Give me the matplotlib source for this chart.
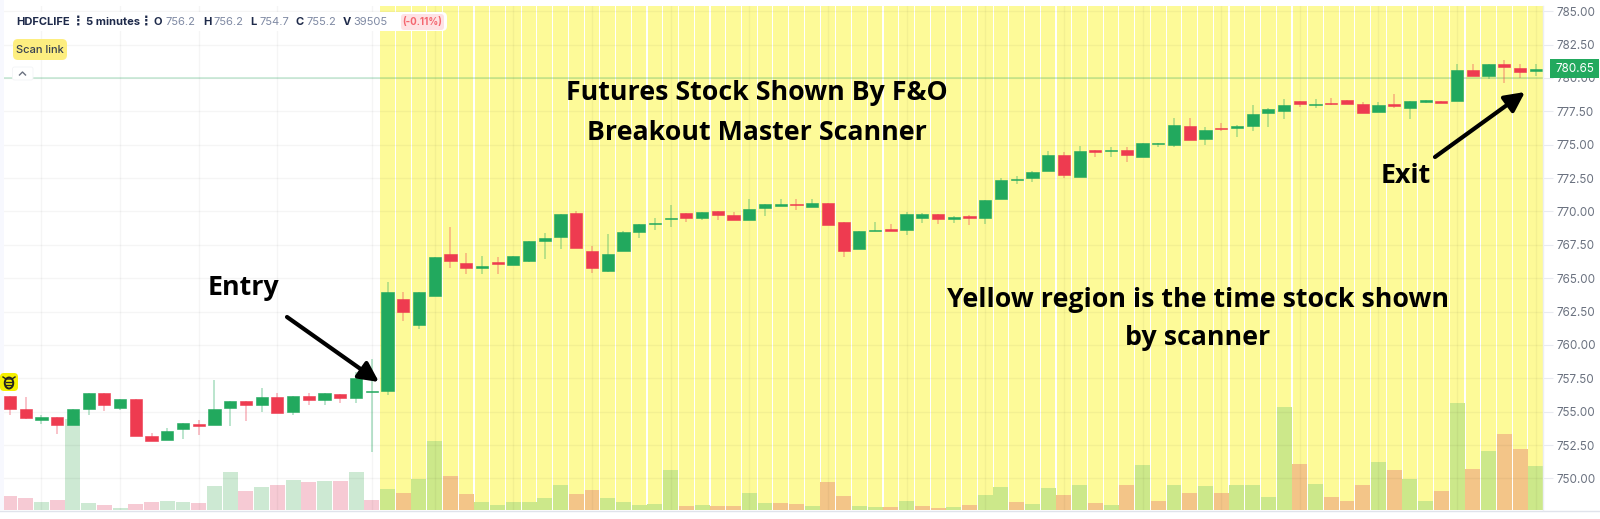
import matplotlib
matplotlib.use("Agg")
import matplotlib.pyplot as plt
from matplotlib.patches import FancyBboxPatch, Rectangle, Ellipse

plt.rcParams['font.family'] = ['Inter', 'DejaVu Sans']

# candle values
opens = [756.19, 755.22, 754.39, 754.57, 753.97, 755.17, 756.42, 755.29, 755.94, 753.17,
         752.87, 753.72, 754.09, 754.04, 755.29, 755.77, 755.47, 756.11, 754.99, 756.19,
         755.89, 756.34, 756.01, 756.47, 756.57, 763.41, 761.51, 763.69, 766.78, 766.13,
         765.78, 766.20, 766.00, 766.29, 767.79, 768.08, 769.88, 767.06, 765.54, 767.01,
         768.43, 769.08, 769.46, 769.88, 769.53, 770.00, 769.76, 769.33, 770.26, 770.43,
         770.58, 770.31, 770.61, 769.23, 767.19, 768.51, 768.68, 768.63, 769.53, 769.81,
         769.46, 769.63, 769.53, 770.91, 772.35, 772.48, 773.00, 774.23, 772.60, 774.58,
         774.53, 774.63, 774.10, 775.08, 775.00, 776.38, 775.43, 776.28, 776.23, 776.40,
         777.40, 777.53, 778.25, 777.95, 778.15, 778.37, 778.07, 777.43, 778.03, 777.77,
         778.22, 778.25, 778.27, 780.60, 780.15, 781.02, 780.77, 780.50]
closes = [755.17, 754.52, 754.57, 753.97, 755.17, 756.42, 755.47, 755.94, 753.19, 752.82,
          753.54, 754.19, 753.94, 755.22, 755.81, 755.54, 756.11, 754.92, 756.19, 755.89,
          756.42, 756.04, 757.56, 756.57, 763.96, 762.46, 763.96, 766.56, 766.26, 765.78,
          765.95, 766.06, 766.66, 767.81, 768.01, 769.83, 767.24, 765.74, 766.81, 768.43,
          769.03, 769.16, 769.53, 769.53, 769.98, 769.71, 769.33, 770.18, 770.53, 770.53,
          770.48, 770.66, 768.98, 767.01, 768.56, 768.61, 768.56, 769.81, 769.81, 769.41,
          769.58, 769.53, 770.88, 772.38, 772.43, 772.93, 774.20, 772.73, 774.50, 774.45,
          774.63, 774.23, 775.13, 775.15, 776.50, 775.38, 776.13, 776.15, 776.38, 777.28,
          777.65, 778.00, 778.03, 778.08, 778.05, 778.03, 777.35, 778.00, 777.90, 778.25,
          778.33, 778.12, 780.60, 780.12, 781.02, 780.85, 780.47, 780.67]
highs = [756.19, 756.14, 754.79, 754.57, 755.17, 756.42, 756.42, 755.94, 755.94, 753.44,
         753.77, 754.19, 754.39, 757.34, 755.81, 755.77, 756.79, 756.42, 756.19, 756.42,
         756.42, 756.34, 757.94, 758.96, 764.69, 763.94, 763.96, 766.56, 768.83, 766.88,
         766.70, 766.58, 766.66, 767.81, 768.36, 769.83, 770.00, 767.41, 768.31, 768.50,
         769.05, 769.48, 770.48, 769.90, 769.98, 770.00, 769.98, 770.91, 770.53, 770.93,
         770.93, 770.93, 770.61, 769.23, 768.56, 769.21, 769.03, 769.98, 769.91, 769.81,
         769.63, 769.70, 770.88, 772.50, 772.68, 773.00, 774.50, 774.43, 774.93, 774.62,
         774.80, 774.80, 775.13, 775.15, 777.00, 777.00, 776.35, 776.63, 776.45, 777.95,
         777.73, 778.40, 778.25, 778.42, 778.50, 778.37, 778.22, 778.22, 778.80, 778.25,
         778.33, 778.25, 781.05, 781.05, 781.02, 781.32, 781.02, 781.02]
lows = [754.72, 754.42, 754.09, 753.32, 753.97, 754.77, 755.04, 755.11, 753.19, 752.82,
        752.87, 752.94, 753.24, 754.04, 753.92, 754.27, 754.99, 754.92, 754.77, 755.54,
        755.54, 755.64, 755.64, 752.02, 756.27, 761.81, 761.19, 763.69, 765.80, 765.28,
        765.28, 765.33, 766.00, 766.20, 766.41, 767.21, 767.24, 765.41, 765.50, 767.01,
        768.03, 768.61, 768.86, 769.23, 769.36, 769.36, 769.33, 769.33, 769.66, 770.40,
        770.13, 770.31, 768.98, 766.56, 767.19, 768.51, 768.50, 768.21, 769.11, 769.06,
        769.16, 768.98, 769.06, 770.91, 772.03, 772.18, 773.00, 772.53, 772.60, 774.05,
        774.05, 773.73, 774.10, 774.85, 774.83, 775.38, 775.00, 776.05, 775.55, 776.05,
        776.33, 776.95, 777.85, 777.77, 777.97, 778.03, 777.35, 777.43, 777.77, 776.95,
        778.13, 778.12, 778.27, 780.12, 779.90, 779.60, 780.00, 780.15]
# volume in thousands
volumes = [39.5, 33.0, 23.4, 28.2, 255.8, 19.7, 14.1, 5.6, 16.9, 21.7,
           25.4, 23.4, 19.7, 66.8, 107.2, 53.6, 64.9, 71.3, 84.6, 79.0,
           82.6, 82.6, 107.2, 28.2, 60.1, 48.8, 87.4, 193.7, 95.9, 45.1,
           23.4, 14.1, 23.4, 21.7, 33.8, 69.7, 45.1, 56.4, 33.8, 21.7,
           14.9, 16.9, 112.8, 12.1, 14.9, 10.4, 12.1, 48.8, 19.7, 19.7,
           16.9, 12.1, 79.0, 39.5, 10.4, 8.5, 8.5, 24.5, 10.4, 5.6,
           8.5, 14.9, 42.3, 64.9, 21.7, 16.9, 62.9, 42.3, 71.3, 19.7,
           13.3, 71.3, 126.9, 24.5, 69.7, 48.8, 66.8, 48.8, 71.3, 71.3,
           35.8, 289.6, 128.9, 73.3, 35.8, 24.5, 69.7, 135.4, 112.8, 88.3,
           24.5, 53.6, 302.6, 114.8, 167.2, 214.3, 171.2, 124.1]
# u = green bar, d = red bar, one per candle
vol_dirs = ["d","d","u","d","u","u","d","u","d","d",
            "u","u","d","u","u","d","u","d","u","d",
            "u","d","u","d","u","d","u","u","d","d",
            "u","u","u","u","u","u","d","d","u","u",
            "u","u","u","d","u","d","d","u","u","d",
            "d","u","d","d","u","u","d","u","d","d",
            "u","d","u","u","d","u","u","d","u","d",
            "u","d","u","d","u","d","u","d","u","u",
            "u","u","d","u","d","d","d","u","d","u",
            "u","d","u","d","u","d","d","u"]

price_ticks = [750, 752.5, 755, 757.5, 760, 762.5, 765, 767.5, 770, 772.5, 775, 777.5, 780, 782.5, 785]
vgrid_at = [2, 7, 12, 17, 23, 27, 32, 37, 42, 47, 52, 57, 62, 67, 72, 77, 82, 87, 92, 97]
scan_start = 24
level_line = 779.97
last_price = "780.65"

W, H = 1600, 519
GREEN, RED = '#22A95E', '#EE3B50'

fig = plt.figure(figsize=(W/100, H/100), dpi=100, facecolor='white')
rect = [4/W, 1-510/H, (1543-4)/W, (510-6)/H]

# volume + yellow columns sit under the candles
ax_vol = fig.add_axes(rect, zorder=1)
ax = fig.add_axes(rect, zorder=2)
ax.patch.set_visible(False)
xr = (-0.381, 97.46)
n = len(opens)

ax_vol.set_xlim(*xr)
ax_vol.set_ylim(0, 1421)
ax_vol.axis('off')
ax_vol.bar(range(scan_start, n), [1421]*(n-scan_start), width=0.93, color='#FDFA98', linewidth=0, zorder=1)
for i in range(n):
    if i < scan_start:
        c = '#CDE9D3' if vol_dirs[i] == 'u' else '#F6CAD4'
    else:
        c = '#CCE88A' if vol_dirs[i] == 'u' else '#F3C588'
    ax_vol.bar(i, volumes[i], width=0.95, color=c, linewidth=0, zorder=2)

ax.set_xlim(*xr)
ax.set_ylim(747.64, 785.39)
ax.set_yticks(price_ticks)
ax.set_yticklabels(["%.2f" % t for t in price_ticks], fontsize=8.4, color='#6B7280')
ax.yaxis.tick_right()
ax.tick_params(axis='y', length=7, width=0.8, color='#E8EAF0', pad=3)
ax.set_xticks([])
for s in ax.spines.values():
    s.set_visible(False)
for t in price_ticks:
    ax.axhline(t, color='black', alpha=0.04, lw=1, zorder=1)
for v in vgrid_at:
    ax.axvline(v, color='black', alpha=0.04, lw=1, zorder=1)
ax.axhline(level_line, color='#22A95E', alpha=0.25, lw=1.2, zorder=2)

for i in range(n):
    up = closes[i] >= opens[i]
    c = GREEN if up else RED
    ax.vlines(i, lows[i], highs[i], color=c, alpha=0.36, lw=1.2, zorder=3)
    ax.bar(i, abs(closes[i]-opens[i]), bottom=min(opens[i], closes[i]), width=0.775,
           color=c, linewidth=0.4, edgecolor=c, zorder=4)

# overlay in picture pixels for the annotations and the toolbar bits
ov = fig.add_axes([0, 0, 1, 1], zorder=5)
ov.set_xlim(0, W)
ov.set_ylim(H, 0)
ov.axis('off')
ov.patch.set_visible(False)

ov.add_patch(Rectangle((0, 0), 4, 510, color='#F7F8FE', lw=0))
ov.plot([0, W], [510.5, 510.5], color='#E0E3EB', lw=1)
ov.plot([1543, 1543], [6, 510], color='#ECEEF3', lw=1)

ov.add_patch(Rectangle((1550, 59), 49, 19, color=GREEN, lw=0))
ov.text(1574.5, 68.5, last_price, color='white', fontsize=8.4, ha='center', va='center')

# legend strip
ov.add_patch(FancyBboxPatch((10, 12), 437, 19, boxstyle="round,pad=0,rounding_size=5", fc='white', ec='none'))
DARK, GRAY = '#1E2A4A', '#7E89A3'
hy = 22
ov.text(16, hy, "HDFCLIFE", color=DARK, fontsize=8, fontweight='bold', va='center')
ov.text(78, hy, "⋮", color=DARK, fontsize=9, fontweight='bold', va='center', ha='center')
ov.text(86, hy, "5 minutes", color=DARK, fontsize=8, fontweight='bold', va='center')
ov.text(146, hy, "⋮", color=DARK, fontsize=9, fontweight='bold', va='center', ha='center')
for lx, lab, vx, val in [(154, "O", 165, "756.2"), (203, "H", 213, "756.2"), (250, "L", 259, "754.7"),
                         (296, "C", 306, "755.2"), (343, "V", 353, "39505")]:
    ov.text(lx, hy, lab, color=DARK, fontsize=8, fontweight='bold', va='center')
    ov.text(vx, hy, val, color=GRAY, fontsize=8, va='center')
ov.add_patch(FancyBboxPatch((401, 14), 43, 16, boxstyle="round,pad=0,rounding_size=3", fc='#FEE2E4', ec='none'))
ov.text(422.5, 21.5, "(-0.11%)", color='#F4666F', fontsize=7, fontweight='bold', va='center', ha='center')

ov.add_patch(FancyBboxPatch((13, 39), 54, 21, boxstyle="round,pad=0,rounding_size=5", fc='#FDEE80', ec='none'))
ov.text(16, 50, "Scan link", color='#374151', fontsize=8, fontweight='medium', va='center')
ov.add_patch(FancyBboxPatch((12.5, 67), 20.5, 13, boxstyle="round,pad=0,rounding_size=2", fc='white', ec='#F3F4F6', lw=0.6))
ov.plot([19.5, 22.5, 25.5], [75, 72, 75], color='#6B7280', lw=1)

# bug icon at the left edge
ov.add_patch(FancyBboxPatch((0, 373), 18, 18, boxstyle="round,pad=0,rounding_size=4", fc='#F5F000', ec='none'))
ov.add_patch(Ellipse((9, 383), 8.5, 11, fc='none', ec='#222222', lw=1.4))
ov.plot([6, 12], [382, 382], color='#222222', lw=1)
ov.plot([6, 12], [385, 385], color='#222222', lw=1)
ov.plot([3, 6, 12, 15], [377, 379, 379, 377], color='#222222', lw=1)

# annotations
BIG = ['Open Sans', 'DejaVu Sans']
for tx, ty, s in [(757, 93, "Futures Stock Shown By F&O"), (757, 133, "Breakout Master Scanner"),
                  (1198, 300, "Yellow region is the time stock shown"), (1198, 338, "by scanner"),
                  (243, 288, "Entry"), (1406, 176, "Exit")]:
    ov.text(tx, ty, s, family=BIG, fontsize=19.3, fontweight='bold', color='black', ha='center', va='center')

ov.annotate("", xy=(379, 382), xytext=(287, 317),
            arrowprops=dict(arrowstyle="-|>,head_length=0.7,head_width=0.35", color='black', lw=3,
                            shrinkA=0, shrinkB=0, mutation_scale=17))
ov.annotate("", xy=(1525, 92), xytext=(1435, 157),
            arrowprops=dict(arrowstyle="-|>,head_length=0.7,head_width=0.35", color='black', lw=3,
                            shrinkA=0, shrinkB=0, mutation_scale=17))

plt.savefig("out.png", dpi=100)
